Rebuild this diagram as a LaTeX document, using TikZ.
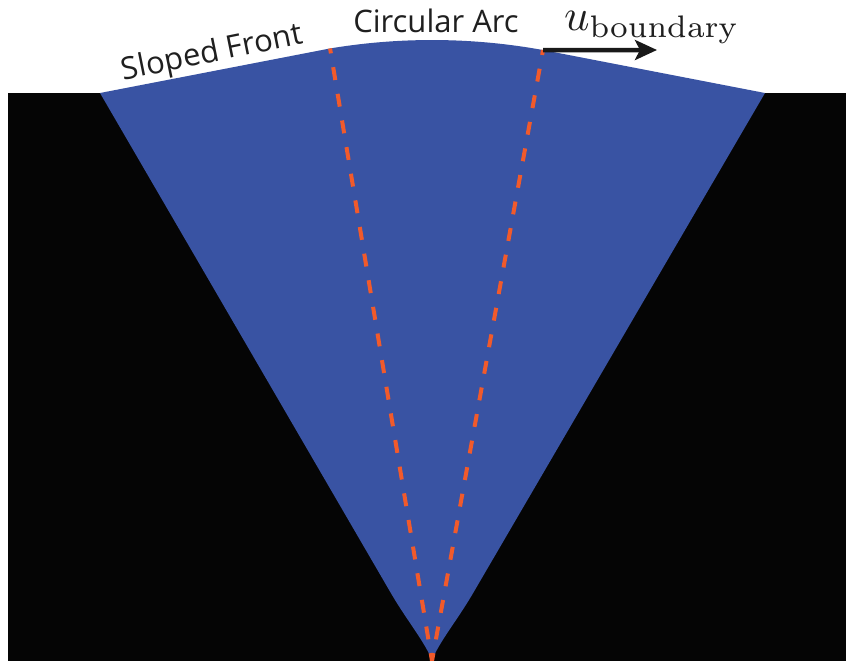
\documentclass[tikz,border=0pt]{standalone}
\usepackage[no-math]{fontspec}
\usepackage{graphicx}
\newfontfamily\labelfont{Open Sans}
\usetikzlibrary{arrows.meta,calc}
\definecolor{fanblue}{HTML}{3953A3}
\definecolor{dashorange}{HTML}{F15A2B}
\definecolor{ground}{HTML}{050505}
\tikzset{
  labeltext/.style={font=\labelfont\fontsize{31}{34}\selectfont, text=black!88, inner sep=0pt},
  radial/.style={draw=dashorange, line width=4pt, dash pattern=on 13pt off 14pt, dash phase=8pt},
  velarrow/.style={draw=black!90, line width=4.5pt, -{Stealth[length=22pt,width=20pt,inset=5pt]}},
}
\begin{document}
\begin{tikzpicture}[x=1pt,y=-1pt]
\useasboundingbox (0,0) rectangle (846,661);
% ground
\fill[ground] (8,93) rectangle (846,661);
% key points
\coordinate (apex) at (432,661);
\coordinate (lcorner) at (100,93);
\coordinate (rcorner) at (765,93);
\coordinate (larc) at ($(apex)+(-99.45:621)$);
\coordinate (rarc) at ($(apex)+(-79.7:621)$);
\coordinate (arrowtip) at (657,50);
% fan
\fill[fanblue] (lcorner) -- (larc) arc[start angle=-99.45, end angle=-79.7, radius=621]
  -- (rcorner) -- (472,595) .. controls (456,622) and (437,645) .. (apex)
  .. controls (427,645) and (408,622) .. (392,595) -- cycle;
% dashed radii
\draw[radial] (larc) -- (apex);
\draw[radial] (rarc) -- (apex);
% velocity arrow
\draw[velarrow] (rarc) -- (arrowtip);
% labels
\node[labeltext, anchor=base, rotate=11.5] (sloped) at (214,62) {Sloped Front};
\node[labeltext, anchor=base] (circ) at (436,33) {Circular Arc};
\node[inner sep=0pt, anchor=base west, text=black!88] (ub) at (564,31)
  {\scalebox{4.45}{$u_{\mathrm{boundary}}$}};
\end{tikzpicture}
\end{document}
